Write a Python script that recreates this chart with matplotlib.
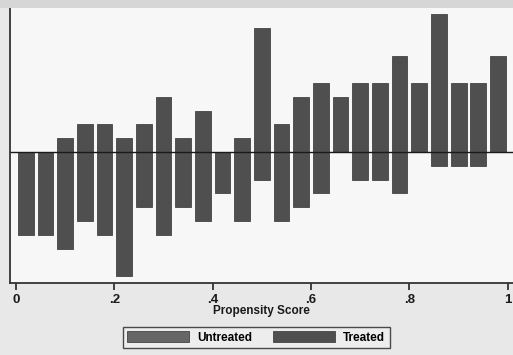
import matplotlib
matplotlib.use("Agg")
import matplotlib.pyplot as plt
from matplotlib.patches import Rectangle
import numpy as np

# propensity score bins (width .04) and counts
bin_left = np.arange(25) * 0.04
treated = [0, 0, 1, 2, 2, 1, 2, 4, 1, 3, 0, 1, 9, 2, 4, 5, 4, 5, 5, 7, 5, 10, 5, 5, 7]
untreated = [6, 6, 7, 5, 6, 9, 4, 6, 4, 5, 3, 5, 2, 5, 4, 3, 0, 2, 2, 3, 0, 1, 1, 1, 0]
xticks = [0, 0.2, 0.4, 0.6, 0.8, 1.0]
xticklabels = ["0", ".2", ".4", ".6", ".8", "1"]

plt.rcParams['font.family'] = ['Liberation Sans', 'DejaVu Sans']

fig = plt.figure(figsize=(5.13, 3.55), dpi=100, facecolor="#e8e8e8")
# grey strip of the scan at the top
fig.patches.append(Rectangle((0, 1 - 8 / 355), 1, 8 / 355, transform=fig.transFigure,
                             facecolor="#d6d6d6", edgecolor="none", zorder=0))
ax = fig.add_axes([10 / 513, 72 / 355, 503 / 513, 275 / 355])
ax.set_facecolor("#f7f7f7")

centers = bin_left + 0.02
ax.bar(centers, treated, width=0.032, color="#4f4f4f", edgecolor="#444444", lw=0.6, label="Treated")
ax.bar(centers, -np.array(untreated), width=0.032, color="#4f4f4f", edgecolor="#444444", lw=0.6,
       label="Untreated")
ax.axhline(0, color="#1a1a1a", lw=1.0)

ax.set_xlim(-0.012, 1.0105)
ax.set_ylim(-9.5, 10.45)
ax.set_xticks(xticks)
ax.set_xticklabels(xticklabels, fontsize=9.5, fontweight="bold", color="#1a1a1a")
ax.set_yticks([])
ax.tick_params(axis="x", length=5, width=1.3, color="#333333", pad=3)
for side in ["top", "right"]:
    ax.spines[side].set_visible(False)
for side in ["left", "bottom"]:
    ax.spines[side].set_color("#333333")
    ax.spines[side].set_linewidth(1.3)
ax.set_xlabel("Propensity Score", fontsize=8.5, fontweight="bold", labelpad=-1, color="#1a1a1a")

handles, labels = ax.get_legend_handles_labels()
leg = fig.legend(handles[::-1], labels[::-1], loc="center", bbox_to_anchor=(256 / 513, 1 - 337.5 / 355),
                 ncol=2, fontsize=8.5, frameon=True, fancybox=False, edgecolor="#222222",
                 handlelength=5.2, handleheight=1.0, columnspacing=1.8, handletextpad=0.7,
                 borderpad=0.4, prop={"weight": "bold", "size": 8.5})
leg.get_frame().set_facecolor("#efefef")
leg.get_frame().set_linewidth(1.0)
leg.legend_handles[0].set_facecolor("#666666")

fig.savefig("out.png", dpi=100, facecolor=fig.get_facecolor())
